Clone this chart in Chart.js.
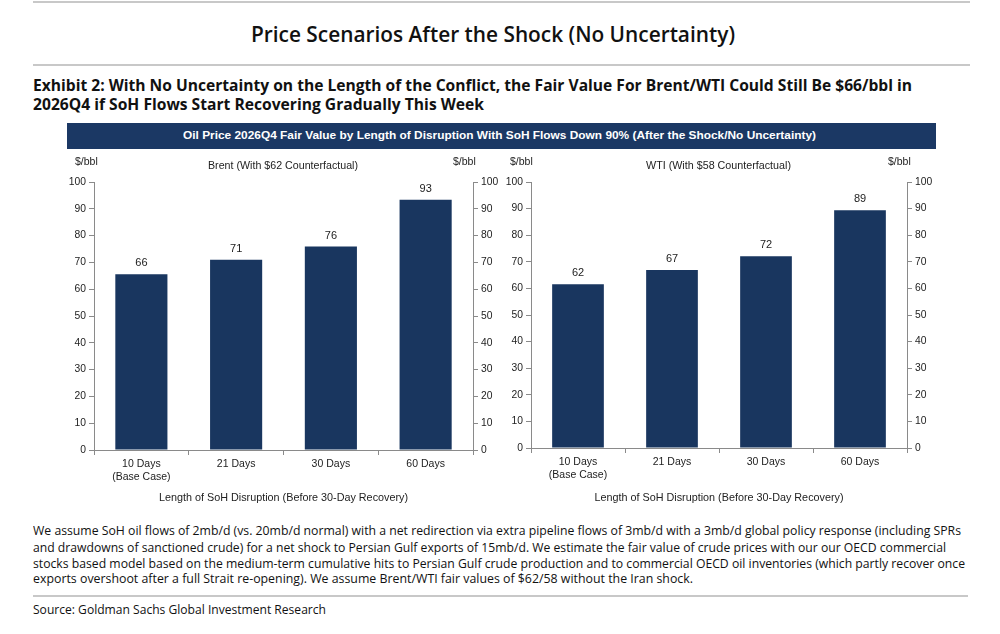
<!DOCTYPE html>
<html>
<head>
<meta charset="utf-8">
<script src="https://cdn.jsdelivr.net/npm/chart.js@4.4.1/dist/chart.umd.min.js"></script>
<style>
  html, body { margin: 0; padding: 0; background: #fff; }
  #page { position: relative; width: 1000px; height: 634px; overflow: hidden; background: #fff; }
  .t { position: absolute; white-space: nowrap; line-height: 1; transform-origin: 0 50%; }
  .hdr { font-family: "Open Sans", "Noto Sans", sans-serif; color: #111; }
  .ax { font-family: "Liberation Sans", Arial, sans-serif; font-size: 10.5px; color: #222; }
  .rule { position: absolute; height: 2px; background: #c8c8c8; }
  #banner { position: absolute; left: 67px; top: 123px; width: 869px; height: 26px; background: #1b3864; }
  .cw { position: absolute; }
</style>
</head>
<body>
<div id="page">
  <div class="rule" style="left:33px; top:1px; width:937px;"></div>
  <div class="t hdr fit" data-w="484" style="left:251px; top:22px; font-size:22px; font-weight:600;">Price Scenarios After the Shock (No Uncertainty)</div>
  <div class="rule" style="left:33px; top:64px; width:937px;"></div>
  <div class="t hdr fit" data-w="879" style="left:33px; top:77px; font-size:16px; font-weight:700;">Exhibit 2: With No Uncertainty on the Length of the Conflict, the Fair Value For Brent/WTI Could Still Be $66/bbl in</div>
  <div class="t hdr fit" data-w="451" style="left:33px; top:96px; font-size:16px; font-weight:700;">2026Q4 if SoH Flows Start Recovering Gradually This Week</div>

  <div id="banner"></div>
  <div class="t fit" data-w="633" style="left:183px; top:130px; font-family:'Liberation Sans', Arial, sans-serif; font-weight:700; font-size:11.5px; color:#fff;">Oil Price 2026Q4 Fair Value by Length of Disruption With SoH Flows Down 90% (After the Shock/No Uncertainty)</div>

  <div class="cw"><canvas id="c1" width="445" height="360"></canvas></div>
  <div class="cw"><canvas id="c2" width="445" height="360"></canvas></div>

  <div class="t ax" style="left:75px; top:156px;">$/bbl</div>
  <div class="t ax fit" data-w="150" style="left:208px; top:160px;">Brent (With $62 Counterfactual)</div>
  <div class="t ax" style="left:453px; top:156px;">$/bbl</div>

  <div class="t ax" style="left:510px; top:156px;">$/bbl</div>
  <div class="t ax fit" data-w="145" style="left:646px; top:160px;">WTI (With $58 Counterfactual)</div>
  <div class="t ax" style="left:888px; top:156px;">$/bbl</div>

  <div class="t hdr fit" data-w="928" style="left:33px; top:525px; font-size:12.5px;">We assume SoH oil flows of 2mb/d (vs. 20mb/d normal) with a net redirection via extra pipeline flows of 3mb/d with a 3mb/d global policy response (including SPRs</div>
  <div class="t hdr fit" data-w="913" style="left:33px; top:542px; font-size:12.5px;">and drawdowns of sanctioned crude) for a net shock to Persian Gulf exports of 15mb/d. We estimate the fair value of crude prices with our our OECD commercial</div>
  <div class="t hdr fit" data-w="932" style="left:33px; top:558px; font-size:12.5px;">stocks based model based on the medium-term cumulative hits to Persian Gulf crude production and to commercial OECD oil inventories (which partly recover once</div>
  <div class="t hdr fit" data-w="660" style="left:33px; top:573px; font-size:12.5px;">exports overshoot after a full Strait re-opening). We assume Brent/WTI fair values of $62/58 without the Iran shock.</div>
  <div class="rule" style="left:33px; top:595px; width:935px;"></div>
  <div class="t hdr fit" data-w="293" style="left:33px; top:604px; font-size:12.5px;">Source: Goldman Sachs Global Investment Research</div>
</div>

<script>
// ---- data ----
const categories = [["10 Days", "(Base Case)"], "21 Days", "30 Days", "60 Days"];
const brentValues = [65.6, 71.0, 75.9, 93.4];
const wtiValues = [61.6, 66.9, 72.1, 89.4];
const yTicks = [0, 10, 20, 30, 40, 50, 60, 70, 80, 90, 100];
const xAxisTitle = "Length of SoH Disruption (Before 30-Day Recovery)";

// ---- text fitting ----
document.querySelectorAll('.fit').forEach(el => {
  const w = el.getBoundingClientRect().width;
  const target = parseFloat(el.dataset.w);
  if (w > 0) el.style.transform = 'scaleX(' + (target / w) + ')';
});

const BAR = '#19365f';
const AX = '#8a8a8a';
const TXT = '#222';
const FONT = "'Liberation Sans', Arial, sans-serif";

const valueLabels = {
  id: 'valueLabels',
  afterDatasetsDraw(chart) {
    const ctx = chart.ctx;
    ctx.save();
    ctx.font = '11px ' + FONT;
    ctx.fillStyle = TXT;
    ctx.textAlign = 'center';
    ctx.textBaseline = 'middle';
    chart.getDatasetMeta(0).data.forEach((bar, i) => {
      const v = chart.data.datasets[0].data[i];
      ctx.fillText(String(Math.round(v)), bar.x, bar.y - 11);
    });
    ctx.restore();
  }
};

function makeChart(id, left, values, leftW, rightW, top, xH) {
  const canvas = document.getElementById(id);
  canvas.parentElement.style.left = left + 'px';
  canvas.parentElement.style.top = '150px';
  const yCommon = (pos, w) => ({
    type: 'linear',
    position: pos,
    min: 0, max: 100,
    afterBuildTicks: s => { s.ticks = yTicks.map(v => ({ value: v })); },
    afterFit: s => { s.width = w; },
    grid: { drawOnChartArea: false, drawTicks: true, tickLength: 5, color: AX, tickColor: AX },
    border: { display: true, color: AX, width: 1 },
    ticks: { color: TXT, font: { family: FONT, size: 10.3 }, padding: 3 }
  });
  return new Chart(canvas, {
    type: 'bar',
    data: {
      labels: categories,
      datasets: [{ data: values, backgroundColor: BAR, borderWidth: 0, categoryPercentage: 1, barPercentage: 0.55 }]
    },
    options: {
      responsive: false,
      animation: false,
      devicePixelRatio: 1,
      layout: { padding: { top: top, bottom: 0, left: 0, right: 0 } },
      plugins: { legend: { display: false }, tooltip: { enabled: false }, title: { display: false } },
      scales: {
        x: {
          offset: true,
          afterFit: s => { s.height = xH; },
          grid: { offset: true, drawOnChartArea: false, drawTicks: true, tickLength: 5, color: AX, tickColor: AX },
          border: { display: true, color: AX, width: 1 },
          ticks: { color: TXT, font: { family: FONT, size: 10.5, lineHeight: 1.2 }, padding: 3, maxRotation: 0, autoSkip: false },
          title: { display: true, text: xAxisTitle, color: TXT, font: { family: FONT, size: 10.8 }, padding: { top: 0, bottom: 5 } }
        },
        y: yCommon('left', leftW),
        y2: yCommon('right', rightW)
      }
    },
    plugins: [valueLabels]
  });
}

makeChart('c1', 60, brentValues, 34, 32, 32, 60);
makeChart('c2', 497, wtiValues, 34, 35, 32, 62);
</script>
</body>
</html>
